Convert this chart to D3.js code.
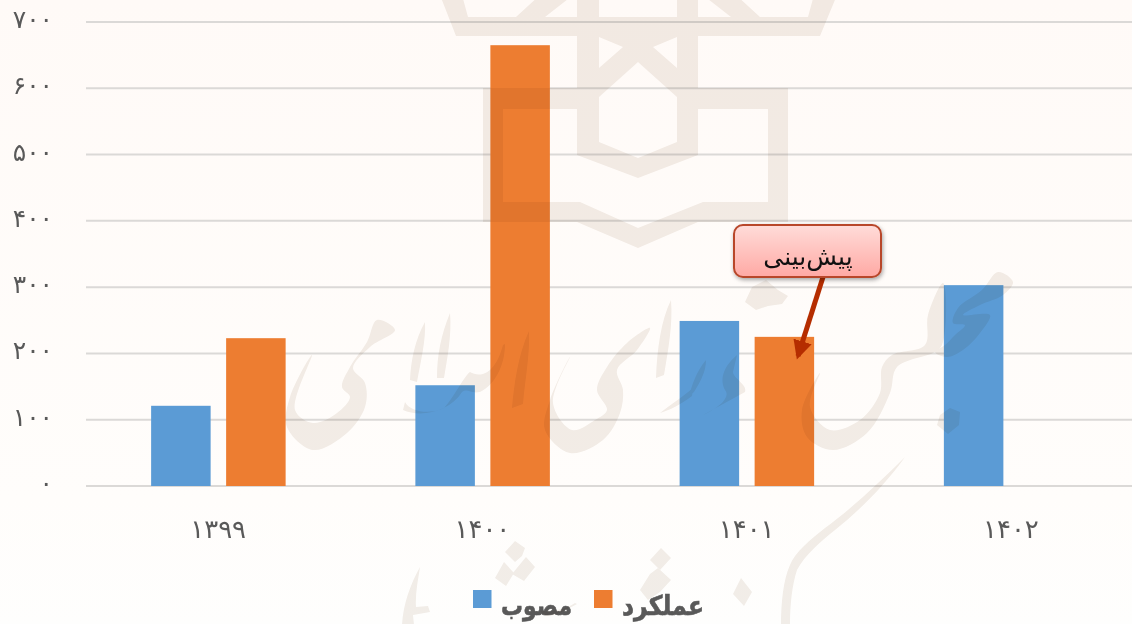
<!DOCTYPE html>
<html><head><meta charset="utf-8">
<script src="https://cdn.jsdelivr.net/npm/d3@7/dist/d3.min.js"></script>
<style>html,body{margin:0;padding:0;background:#fff}svg{display:block}</style>
</head><body><svg id="c" width="1132" height="624"></svg>
<script>
const categories=["۱۳۹۹","۱۴۰۰","۱۴۰۱","۱۴۰۲"];
const seriesNames=["مصوب","عملکرد"];
const approved=[121,152,249,303];
const actual=[223,665,225,null];
const yTicks=[0,100,200,300,400,500,600,700];
const fa=n=>String(n).replace(/\d/g,d=>"۰۱۲۳۴۵۶۷۸۹"[d]);
const svg=d3.select("#c");
const defs=svg.append("defs");
const bg=defs.append("linearGradient").attr("id","bg").attr("x1",0).attr("y1",0).attr("x2",0).attr("y2",1);
bg.append("stop").attr("offset",0).attr("stop-color","#fffaf7");
bg.append("stop").attr("offset",.8).attr("stop-color","#fffdfb");
bg.append("stop").attr("offset",1).attr("stop-color","#fefefd");
const cg=defs.append("linearGradient").attr("id","call").attr("x1",0).attr("y1",0).attr("x2",0).attr("y2",1);
cg.append("stop").attr("offset",0).attr("stop-color","#ffdcd9");
cg.append("stop").attr("offset",1).attr("stop-color","#ffa9a4");
const sh=defs.append("filter").attr("id","sh").attr("x","-20%").attr("y","-20%").attr("width","140%").attr("height","150%");
sh.append("feDropShadow").attr("dx",1).attr("dy",2).attr("stdDeviation",2).attr("flood-color","#000").attr("flood-opacity",.35);
defs.append("marker").attr("id","ah").attr("viewBox","0 0 10 10").attr("refX",8).attr("refY",5).attr("markerWidth",3.8).attr("markerHeight",3.8).attr("orient","auto")
 .append("path").attr("d","M0,0L10,5L0,10Z").attr("fill","#b52d00");
svg.append("rect").attr("width",1132).attr("height",624).attr("fill","url(#bg)");

const x=d3.scaleBand().domain(categories).range([86,1143]);
const y=d3.scaleLinear().domain([0,700]).range([486,22]);
svg.append("g").selectAll("line").data(yTicks).join("line").attr("x1",86).attr("x2",1143).attr("y1",d=>y(d)).attr("y2",d=>y(d)).attr("stroke","#dbd9d7").attr("stroke-width",2);

const barW=59.5;
const offs=[-67,8];
[approved,actual].forEach((vals,s)=>{
 svg.append("g").selectAll("rect").data(vals.map((v,i)=>({v,c:categories[i]})).filter(d=>d.v!=null)).join("rect")
  .attr("x",d=>x(d.c)+x.bandwidth()/2+offs[s]).attr("width",barW)
  .attr("y",d=>y(d.v)).attr("height",d=>y(0)-y(d.v))
  .attr("fill",s?"#ed7d31":"#5b9bd5");
});

const font="'DejaVu Sans',sans-serif";
const yAxis=svg.append("g").attr("transform","translate(53,0)").call(d3.axisLeft(y).tickValues(yTicks).tickFormat(fa).tickSize(0));
yAxis.select(".domain").remove();
yAxis.selectAll("text").attr("x",0).attr("dy","0.22em").attr("text-anchor","end").attr("fill","#595959").style("font-family",font).style("font-size","25px");
const xAxis=svg.append("g").attr("transform","translate(0,529)").call(d3.axisBottom(x).tickSize(0));
xAxis.select(".domain").remove();
xAxis.selectAll("text").attr("y",0).attr("dy","0.36em").attr("fill","#595959").style("font-family",font).style("font-size","26px");

// legend
const lg=svg.append("g");
[[473,501,71],[594,622,82]].forEach(([sx,tx,w],i)=>{
 lg.append("rect").attr("x",sx).attr("y",590).attr("width",18.5).attr("height",18).attr("fill",i?"#ed7d31":"#5b9bd5");
 lg.append("text").attr("x",tx).attr("y",615).attr("text-anchor","start").attr("textLength",w).attr("lengthAdjust","spacingAndGlyphs")
  .attr("fill","#595959").attr("stroke","#595959").attr("stroke-width",.6).style("font-family",font).style("font-size","27px").style("font-weight","700").text(seriesNames[i]);
});

// callout
const callout=svg.append("g");
callout.append("line").attr("x1",823).attr("y1",277).attr("x2",798).attr("y2",356).attr("stroke","#b52d00").attr("stroke-width",5).attr("marker-end","url(#ah)");
callout.append("rect").attr("x",734).attr("y",225).attr("width",147).attr("height",52).attr("rx",9).attr("fill","url(#call)").attr("stroke","#b8472a").attr("stroke-width",2).attr("filter","url(#sh)");
callout.append("text").attr("x",808).attr("y",265).attr("text-anchor","middle").attr("fill","#111").style("font-family",font).style("font-size","25px").text("پیش‌بینی");

// watermark: multiplied over everything; white areas leave what is below unchanged
const ink="#f2eeea";
const wm=svg.append("g").style("mix-blend-mode","multiply");
const poly=(pts,f)=>wm.append("path").attr("d",pts).attr("fill",f);
poly("M483,88H788V222H698L638,248L577,222H483Z",ink);
poly("M503,109H768V202H703L638,228L580,202H503Z","#fff");
poly("M577,-5H698V155L638,178L577,155Z",ink);
poly("M599,97L638,62L677,97V142L638,158L599,142Z","#fff");
poly("M440,-5L456,36H820L837,-5H814L808,17H760L736,-5H699V17H577V-5H540L516,17H468L462,-5Z",ink);
poly("M599,-5H677V17H599Z","#fff");
poly("M599,37L623,47L599,68Z","#fff");
poly("M677,37L653,47L677,68Z","#fff");
poly("M545,17L577,-8V17Z","#fff");
poly("M731,17L699,-8V17Z","#fff");

// calligraphy: smooth outlines
const smooth=d3.line().curve(d3.curveCatmullRomClosed.alpha(.5));
const blobs=[
 [[312,355],[295,410],[313,423],[337,413],[350,397],[342,387],[350,367],[367,342],[377,320],[395,330],[370,347],[353,368],[365,383],[365,407],[347,433],[313,450],[287,427],[290,397]],
 [[570,357],[553,403],[572,430],[595,420],[607,410],[597,390],[607,367],[627,343],[650,328],[637,350],[617,370],[623,390],[620,413],[603,440],[570,453],[545,430],[550,400]],
 [[820,373],[810,407],[830,430],[860,420],[880,393],[882,367],[892,355],[925,345],[928,315],[943,283],[946,300],[942,345],[935,352],[897,367],[890,393],[867,433],[833,450],[807,437],[802,410]],
 [[998,272],[1013,282],[1003,295],[980,305],[963,315],[990,315],[980,333],[963,350],[947,357],[935,352],[945,345],[955,335],[965,325],[953,323],[958,308],[982,290]]
];
wm.append("g").selectAll("path").data(blobs).join("path").attr("d",d=>smooth(d)).attr("fill",ink);
const fills=[
 "M425,322C415,340 411,360 410,380L417,382C421,360 426,340 425,322Z",
 "M450,313C441,335 437,355 437,378L444,378C447,360 452,335 450,313Z",
 "M529,331C518,355 514,385 512,408L523,404C525,380 530,355 529,331Z",
 "M671,300C661,320 657,350 656,378L664,375C668,350 673,325 671,300Z",
 "M405,402C410,412 430,415 444,408C452,400 465,375 470,372C480,378 495,375 503,345L505,344C505,365 495,385 480,392C470,394 468,388 462,392C450,412 420,418 403,410Z",
 "M706,360C696,372 692,385 689,396L694,392C700,382 706,372 706,360Z",
 "M737,355C722,368 720,380 725,390C732,398 715,410 703,415L745,392C748,385 733,378 733,372L737,355Z",
 "M660,413C670,405 685,395 693,388L692,396C680,405 670,410 660,413Z",
 "M752,287L766,280L778,290L788,296L782,304L768,306L756,310L745,302Z",
 "M950,408L960,412L959,425L948,434L937,425L940,415Z",
 "M905,457C880,482 850,510 825,528C810,540 795,552 790,565C783,580 781,605 781,625L790,625C790,605 792,585 797,570C805,555 820,542 835,530C860,510 885,485 905,457Z",
 "M420,567C410,585 403,605 402,625L414,625L413,615L430,612L428,606L416,607C415,595 418,580 420,567Z",
 "M504,562L514,573L506,586L495,578Z","M515,541L525,548L522,556L515,562L505,552Z","M526,557L535,567L524,581L512,574Z",
 "M661,548L671,558L660,570L650,560Z","M650,574L658,568L671,580L660,592L648,600L640,590Z",
 "M741,578L752,592L744,606L733,594Z",
 "M577,604C565,610 555,617 545,616L540,611C550,612 565,610 575,603Z"
];
wm.append("g").selectAll("path").data(fills).join("path").attr("d",d=>d).attr("fill",ink);
</script></body></html>
